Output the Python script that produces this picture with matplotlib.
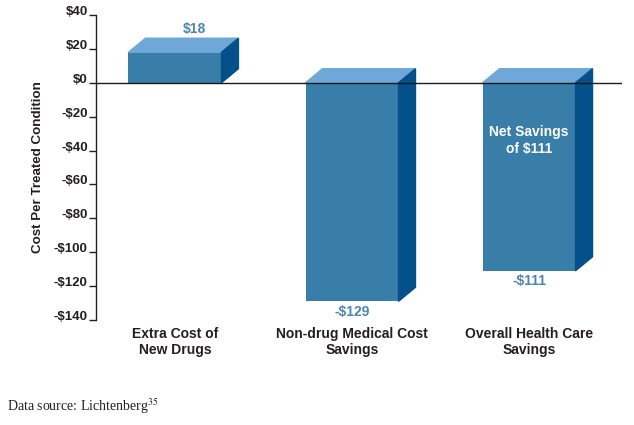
import matplotlib
matplotlib.use("Agg")
import matplotlib.pyplot as plt
from matplotlib.patches import Polygon

categories = ["Extra Cost of\nNew Drugs", "Non-drug Medical Cost\nSavings", "Overall Health Care\nSavings"]
values = [18, -129, -111]
value_labels = ["$18", "-$129", "-$111"]
y_ticks = [40, 20, 0, -20, -40, -60, -80, -100, -120, -140]
y_tick_labels = ["$40", "$20", "$0", "-$20", "-$40", "-$60", "-$80", "-$100", "-$120", "-$140"]
note = "Net Savings\nof $111"

front_col = "#397ea9"
top_col = "#6fa7d8"
side_col = "#03508a"
label_col = "#4b86b3"
text_col = "#231f20"

plt.rcParams["font.family"] = ["Liberation Sans", "DejaVu Sans"]
plt.rcParams["mathtext.fontset"] = "stix"

fig = plt.figure(figsize=(6.34, 4.25), dpi=100)
ax = fig.add_axes([96 / 634, 1 - 320 / 425, 526 / 634, 305 / 425])

width = 0.525
dx, dy = 0.096, 8.3  # depth of the fake 3d box

x = list(range(len(values)))
ax.bar(x, values, width=width, color=front_col, zorder=2)
for i, v in zip(x, values):
    l, r = i - width / 2, i + width / 2
    top = max(v, 0)
    bot = min(v, 0)
    ax.add_patch(Polygon([(l, top), (r, top), (r + dx, top + dy), (l + dx, top + dy)],
                         closed=True, color=top_col, zorder=2, clip_on=False))
    ax.add_patch(Polygon([(r, bot), (r, top), (r + dx, top + dy), (r + dx, bot + dy)],
                         closed=True, color=side_col, zorder=2, clip_on=False))

for i, v, s in zip(x, values, value_labels):
    if v > 0:
        ax.text(i + 0.11, v + dy + 5.5, s, ha="center", va="center",
                color=label_col, fontsize=10, fontweight="bold")
    else:
        ax.text(i, v - 6, s, ha="center", va="center",
                color=label_col, fontsize=10, fontweight="bold")

ax.text(2, -34, note, ha="center", va="center", color="white",
        fontsize=10, fontweight="bold", linespacing=1.25, zorder=4)

ax.axhline(0, color="#1a1a1a", lw=1, zorder=5)

ax.set_xlim(-0.446, 2.525)
ax.set_ylim(-140, 40)
ax.set_yticks(y_ticks)
ax.set_yticklabels(y_tick_labels, fontsize=9.5, fontweight="bold", color=text_col)
for lab in ax.get_yticklabels():
    lab.set_verticalalignment("baseline")
ax.tick_params(axis="y", direction="out", length=5, width=1, pad=1, color=text_col)

ax.set_xticks(x)
ax.set_xticklabels(categories, fontsize=10, fontweight="bold", color=text_col, linespacing=1.2)
ax.tick_params(axis="x", length=0, pad=5)

for side in ["top", "right", "bottom"]:
    ax.spines[side].set_visible(False)
ax.spines["left"].set_color(text_col)
ax.spines["left"].set_linewidth(1)

fig.text(38 / 634, 1 - 167 / 425, "Cost Per Treated Condition", rotation=90,
         ha="center", va="center", fontsize=9.6, fontweight="bold", color=text_col)

fig.text(7 / 634, 1 - 406 / 425, r"Data source: Lichtenberg$^{35}$",
         ha="left", va="center", fontsize=10, family=["Liberation Serif", "DejaVu Serif"],
         color=text_col)

fig.savefig("out.png", dpi=100)
